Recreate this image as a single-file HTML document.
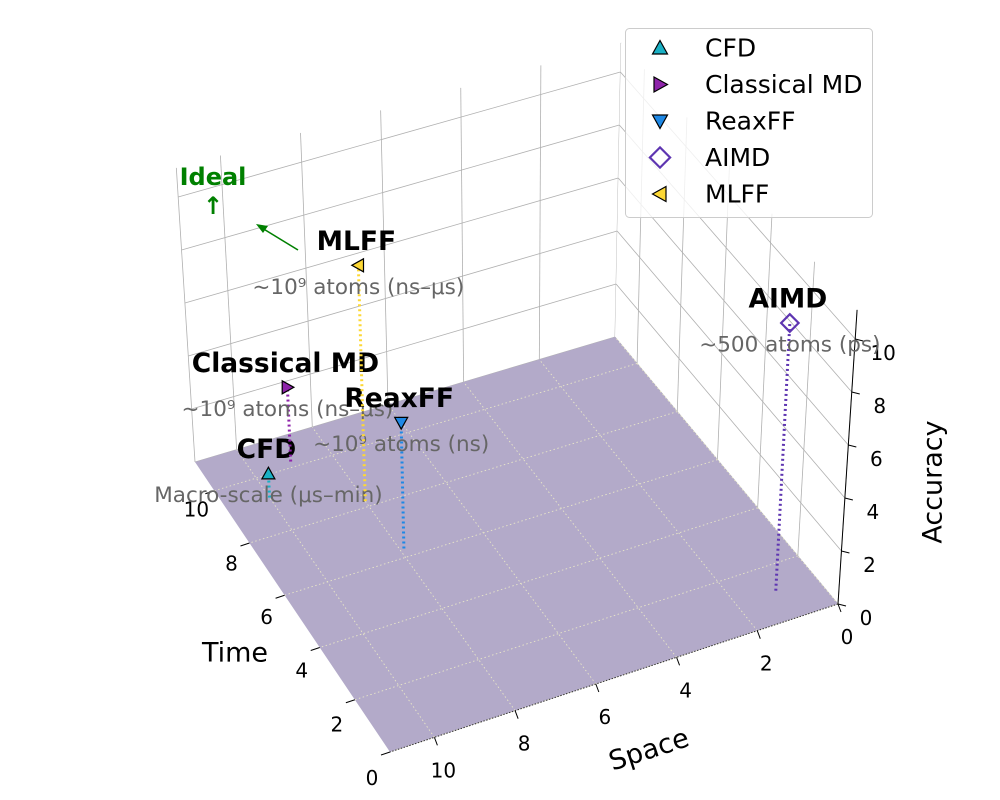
<!DOCTYPE html>
<html><head><meta charset="utf-8"><style>
html,body{margin:0;padding:0;background:#fff}
svg{display:block;font-family:"DejaVu Sans","Liberation Sans",sans-serif}
</style></head><body>
<svg id="chart" width="1000" height="800" viewBox="0 0 1000 800"></svg>
<script>
const methods = ["CFD","Classical MD","ReaxFF","AIMD","MLFF"];
const spaceVals = [10.0, 9.0, 7.9, 1.0, 8.0];
const timeVals = [9.25, 10.2, 6.3, 1.1, 8.2];
const accVals = [0.9, 2.8, 4.75, 10.1, 8.9];
const notes = ["Macro-scale (μs–min)","~10⁹ atoms (ns–μs)","~10⁹ atoms (ns)","~500 atoms (ps)","~10⁹ atoms (ns–μs)"];
const colors = ["#1ab0c4","#8e24aa","#1e88e5","#5e35b1","#fdd835"];
const shapes = ["up","right","down","diamond","left"];
const ticks = [0,2,4,6,8,10];
const LIM = 11.1;

const NS="http://www.w3.org/2000/svg";
const svg=document.getElementById('chart');
const CA=[838,604],CB=[390,752],CC=[195,462],CD=[615,337];
function P(s,t,a){
  const u=s/LIM,v=t/LIM;
  const x=(1-u)*(1-v)*CA[0]+u*(1-v)*CB[0]+u*v*CC[0]+(1-u)*v*CD[0];
  const y=(1-u)*(1-v)*CA[1]+u*(1-v)*CB[1]+u*v*CC[1]+(1-u)*v*CD[1];
  return [x+0.00529*(x-513)*a, y-26.5*a];
}
function el(tag,attrs,parent){const e=document.createElementNS(NS,tag);for(const k in attrs)e.setAttribute(k,attrs[k]);(parent||svg).appendChild(e);return e;}
function line(p,q,st,parent){return el('line',Object.assign({x1:p[0],y1:p[1],x2:q[0],y2:q[1]},st),parent);}
function poly(pts){return pts.map(p=>p[0].toFixed(1)+','+p[1].toFixed(1)).join(' ');}
function text(x,y,str,st){const e=el('text',Object.assign({x:x,y:y,'text-anchor':'middle','dominant-baseline':'central'},st));e.textContent=str;return e;}

// walls
const back=el('g',{});


el('polygon',{points:poly([P(0,LIM,0),P(LIM,LIM,0),P(LIM,LIM,LIM),P(0,LIM,LIM)]),fill:'#fff'},back);
const side=el('g',{});


el('polygon',{points:poly([P(0,0,0),P(0,LIM,0),P(0,LIM,LIM),P(0,0,LIM)]),fill:'#fff'},side);
const gst={stroke:'#b0b0b0','stroke-width':0.8};
ticks.forEach(v=>{
  line(P(v,LIM,0),P(v,LIM,LIM),gst,back);
  line(P(0,v,0),P(0,v,LIM),gst,side);
  line(P(0,LIM,v),P(LIM,LIM,v),gst,back);
  line(P(0,0,v),P(0,LIM,v),gst,side);
});
line(P(LIM,LIM,0),P(LIM,LIM,LIM),gst,back);

// floor
const floor=el('g',{});


el('polygon',{points:poly([P(0,0,0),P(LIM,0,0),P(LIM,LIM,0),P(0,LIM,0)]),fill:'#b3aac9'},floor);
ticks.forEach(v=>{
  const st={stroke:'#e8e6c8','stroke-width':0.9,'stroke-dasharray':'1.5,2.5'};
  line(P(v,0,0),P(v,LIM,0),st,floor);
  line(P(0,v,0),P(LIM,v,0),st,floor);
});
line(P(0,0,0),P(LIM,0,0),{stroke:'#333','stroke-width':1,'stroke-dasharray':'1.5,1.5'},floor);

// axes
const ax={stroke:'#000','stroke-width':1};
line(P(0,0,0),P(0,0,LIM),ax);
ticks.forEach(v=>{
  let p=P(0,0,v); line(p,[p[0]+8,p[1]+2],ax);
  let l=text(p[0]+28,p[1]+14,String(v),{'font-size':20,fill:'#000'});
   
  p=P(v,0,0); line(p,[p[0]+3,p[1]+8],ax);
  l=text(p[0]+9,p[1]+33,String(v),{'font-size':20,fill:'#000'});
   
  p=P(LIM,v,0); line(p,[p[0]-9,p[1]+3],ax);
  l=text(p[0]-18,p[1]+26-0.7*v,String(v),{'font-size':20,fill:'#000'});
   
});
let t;
t=text(235,653,'Time',{'font-size':27});
 
t=text(649,750,'Space',{'font-size':27,transform:'rotate(-18 649 750)'});
 
t=text(933,482,'Accuracy',{'font-size':27,transform:'rotate(-90 933 482)'});
 

function marker(shape,x,y,c,r,parent){
  let pts;
  if(shape==='up')pts=[[x,y-r],[x+r,y+r*0.8],[x-r,y+r*0.8]];
  else if(shape==='down')pts=[[x,y+r],[x+r,y-r*0.8],[x-r,y-r*0.8]];
  else if(shape==='right')pts=[[x+r,y],[x-r*0.8,y-r],[x-r*0.8,y+r]];
  else if(shape==='left')pts=[[x-r,y],[x+r*0.8,y-r],[x+r*0.8,y+r]];
  else pts=[[x,y-r*1.35],[x+r*1.35,y],[x,y+r*1.35],[x-r*1.35,y]];
  return el('polygon',{points:poly(pts),fill:shape==='diamond'?'none':c,stroke:shape==='diamond'?c:'#000','stroke-width':shape==='diamond'?2.2:1.2},parent);
}

// series
methods.forEach((m,i)=>{
  const g=el('g',{});
  
  
  const top=P(spaceVals[i],timeVals[i],accVals[i]);
  const bot=P(spaceVals[i],timeVals[i],0);
  line(bot,top,{stroke:colors[i],'stroke-width':3,'stroke-dasharray':'2,3'},g);
  marker(shapes[i],top[0],top[1],colors[i],6.5,g);
  const n=el('text',{x:top[0]-2,y:top[1]-24,'text-anchor':'middle','dominant-baseline':'central','font-size':26.5,'font-weight':'bold',fill:'#000'},g);
  n.textContent=m;
  const a=el('text',{x:top[0],y:top[1]+22,'text-anchor':'middle','dominant-baseline':'central','font-size':21.5,fill:'#666'},g);
  a.textContent=notes[i];
});

// ideal arrow
t=text(213,177,'Ideal',{'font-size':24,'font-weight':'bold',fill:'#008000'});
 
t=text(213,206,'↑',{'font-size':24,'font-weight':'bold',fill:'#008000'});
 
const ar=el('g',{});


line([298,250],[262,228],{stroke:'#008000','stroke-width':1.6},ar);
el('polygon',{points:'256,224 268,226 263,233',fill:'#008000'},ar);

// legend
const lg=el('g',{});


el('rect',{x:625.5,y:28.5,width:247,height:189,rx:4,fill:'#fff','fill-opacity':0.8,stroke:'#ccc'},lg);
methods.forEach((m,i)=>{
  const y=48+i*36.5;
  const e=el('g',{},lg);
  
  
  marker(shapes[i],660,y,colors[i],7.5,e);
  const tx=el('text',{x:705,y:y,'dominant-baseline':'central','font-size':25,fill:'#000'},e);
  tx.textContent=m;
});
</script>
</body></html>
